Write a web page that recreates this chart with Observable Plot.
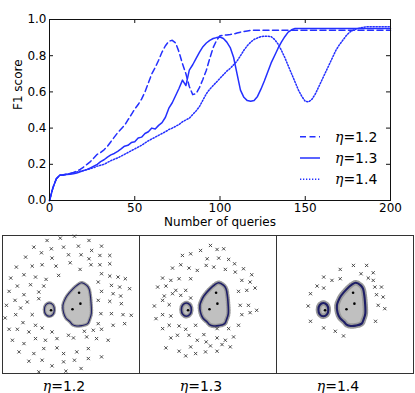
<!DOCTYPE html>
<html><head><meta charset="utf-8">
<script src="https://cdn.jsdelivr.net/npm/d3@7"></script>
<script src="https://cdn.jsdelivr.net/npm/@observablehq/plot@0.6"></script>
<style>
body{margin:0;background:#fff}
#wrap{position:relative;width:415px;height:393px;overflow:hidden;background:#fff}
#wrap>svg{position:absolute}
</style></head>
<body><div id="wrap"></div>
<script>
// ---------- top chart data ----------
const queries = [0,2,4,6,8,10,12,14,16,18,20,22,24,26,28,30,32,34,36,38,40,42,44,46,48,50,52,54,56,58,60,62,64,66,68,70,72,74,76,78,80,82,84,86,88,90,92,94,96,98,100,102,104,106,108,110,112,114,116,118,120,122,124,126,128,130,132,134,136,138,140,142,144,146,148,150,152,154,156,158,160,162,164,166,168,170,172,174,176,178,180,182,184,186,188,190,192,194,196,198,200];
const f1Eta12 = [0,0.07,0.12,0.14,0.142,0.145,0.15,0.155,0.162,0.172,
 0.185,0.20,0.215,0.235,0.255,0.265,0.28,0.30,0.325,0.35,
 0.375,0.395,0.415,0.445,0.475,0.505,0.53,0.56,0.60,0.65,
 0.70,0.735,0.775,0.82,0.855,0.88,0.885,0.87,0.82,0.755,
 0.70,0.63,0.585,0.59,0.625,0.67,0.72,0.785,0.845,0.885,
 0.91,0.912,0.915,0.917,0.92,0.925,0.93,0.934,0.937,0.94,
 0.94,0.94,0.94,0.94,0.94,0.94,0.94,0.94,0.94,0.94,0.94,0.94,0.94,0.94,0.94,0.94,0.94,0.94,0.94,0.94,
 0.94,0.94,0.94,0.94,0.94,0.94,0.94,0.94,0.94,0.94,0.94,0.94,0.94,0.94,0.94,0.94,0.94,0.94,0.94,0.94,0.94];
const f1Eta13 = [0,0.07,0.12,0.14,0.14,0.143,0.145,0.148,0.152,0.158,
 0.165,0.172,0.18,0.19,0.20,0.215,0.225,0.24,0.252,0.26,
 0.272,0.285,0.30,0.305,0.32,0.325,0.345,0.35,0.37,0.38,
 0.40,0.395,0.415,0.43,0.46,0.51,0.54,0.58,0.62,0.665,
 0.635,0.72,0.75,0.785,0.82,0.85,0.87,0.885,0.895,0.90,
 0.903,0.895,0.875,0.845,0.79,0.70,0.61,0.57,0.552,0.548,
 0.553,0.575,0.615,0.66,0.71,0.76,0.80,0.84,0.875,0.905,
 0.93,0.943,
 0.95,0.95,0.95,0.95,0.95,0.95,0.95,0.95,0.95,0.95,0.95,0.95,0.95,0.95,0.95,0.95,0.95,0.95,0.95,0.95,
 0.95,0.95,0.95,0.95,0.95,0.95,0.95,0.95,0.95];
const f1Eta14 = [0,0.07,0.12,0.14,0.142,0.145,0.148,0.152,0.158,0.162,
 0.166,0.17,0.176,0.182,0.19,0.195,0.20,0.21,0.22,0.228,
 0.235,0.245,0.255,0.265,0.275,0.285,0.295,0.305,0.318,0.33,
 0.34,0.35,0.36,0.37,0.38,0.392,0.40,0.41,0.42,0.435,
 0.445,0.455,0.475,0.495,0.52,0.555,0.59,0.615,0.635,0.655,
 0.675,0.695,0.715,0.73,0.75,0.77,0.80,0.83,0.855,0.875,
 0.89,0.898,0.905,0.908,0.908,0.905,0.89,0.865,0.83,0.79,
 0.745,0.70,0.655,0.61,0.575,0.548,0.545,0.56,0.59,0.63,
 0.67,0.71,0.75,0.79,0.83,0.86,0.885,0.91,0.93,0.94,
 0.948,0.953,0.957,
 0.96,0.96,0.96,0.96,0.96,0.96,0.96,0.96];
const etaLabels = ["η=1.2","η=1.3","η=1.4"];
const xTicks = [0,50,100,150,200];
const yTicks = [0,0.2,0.4,0.6,0.8,1.0];

// ---------- bottom panels data (panel coordinates, 0..415, y downward) ----------
const crossesEta12 = [[135,15],[175,8],[218,2],[262,15],[95,35],[148,40],[185,35],[230,32],[270,45],[300,32],
 [70,65],[118,52],[150,68],[200,58],[238,58],[262,70],[295,60],[325,60],
 [42,95],[90,92],[120,88],[162,92],[205,82],[235,102],[268,88],[295,88],[325,85],
 [25,128],[65,118],[100,125],[132,132],[170,120],[300,115],[325,122],[350,125],[372,130],
 [45,152],[85,148],[125,152],[290,140],[330,150],[355,155],[385,160],
 [20,168],[65,178],[110,170],[300,168],[335,175],[358,182],
 [38,195],[75,200],[110,190],[290,195],[325,198],[360,205],
 [12,210],[55,218],[90,238],[298,235],[330,235],[365,238],[390,240],[40,238],[8,248],
 [62,262],[100,270],[290,265],[335,270],[370,265],
 [20,282],[45,282],[80,290],[120,278],[150,290],[200,300],[248,288],[275,285],[300,282],
 [30,315],[65,325],[100,310],[130,315],[165,310],[215,308],[255,305],[285,310],[320,315],
 [50,350],[95,355],[125,340],[165,338],[185,355],[225,350],[260,340],[300,365],
 [80,378],[120,375],[150,392],[185,380],[218,375],[260,370],[110,410],[192,408],[238,400]];
const crossesEta13 = [[215,30],[185,45],[235,42],[255,40],[130,60],[155,55],[205,70],[240,68],[270,72],[288,85],
 [100,98],[125,88],[150,98],[175,105],[202,90],[225,95],[260,102],[290,110],[315,100],[340,118],
 [70,128],[95,135],[120,130],[155,130],[310,135],[335,140],
 [55,155],[80,152],[110,165],[140,165],[300,168],[325,165],[350,158],
 [75,182],[100,175],[125,180],[155,188],
 [45,212],[70,195],[90,208],[305,210],[330,210],[355,225],
 [50,250],[70,238],[95,242],[310,238],[335,232],
 [70,280],[90,270],[120,272],[140,282],[170,270],[195,298],[235,280],[270,280],[300,270],
 [95,308],[115,300],[150,300],[175,315],[202,320],[235,308],[260,315],[285,305],
 [80,338],[120,348],[155,335],[215,332],[250,328],[275,335],
 [140,362],[170,355],[200,350],[235,348]];
const crossesEta14 = [[233,90],[273,90],[193,102],[256,115],[293,112],
 [143,125],[168,135],[193,130],[278,128],[293,135],
 [123,152],[143,158],[298,155],[318,155],
 [103,175],[303,178],[323,185],
 [96,212],[308,210],[328,220],
 [103,258],[300,258],
 [143,278],[178,288],[203,302]];
const regionOutline = [[240,142],[255,150],[262,160],[266,180],[268,200],[269,235],[264,252],[258,265],[240,271],[225,272],[212,268],[205,260],[192,248],[185,232],[183,210],[188,195],[195,182],[212,162],[228,148]];
const smallRegion = [[142,203],[153,209],[157,223],[153,237],[142,243],[131,237],[127,223],[131,209]];
const labeledPoints = [[232,172],[236,205],[212,222],[147,225]];

// ---------- build ----------
const wrap = document.getElementById("wrap");
const blue = "#2430ff";
const seriesDefs = [
  {label: etaLabels[0], values: f1Eta12, dash: "6,3.5"},
  {label: etaLabels[1], values: f1Eta13, dash: null},
  {label: etaLabels[2], values: f1Eta14, dash: "1.3,1.7"}
];
const lineMarks = seriesDefs.map(s => Plot.line(queries.map((q,i)=>({q, f: s.values[i]})),
  {x:"q", y:"f", stroke: blue, strokeWidth: 1.5, strokeDasharray: s.dash}));

const topChart = Plot.plot({
  width: 415, height: 230,
  marginLeft: 49, marginRight: 25, marginTop: 19, marginBottom: 30,
  style: {fontFamily: "'DejaVu Sans', sans-serif", fontSize: "12px", color: "#000", background: "transparent"},
  x: {domain: [0, 200]},
  y: {domain: [0, 1]},
  marks: [
    ...lineMarks,
    Plot.frame({stroke: "#111"}),
    Plot.tickX(xTicks, {x: d => d, insetTop: 177, stroke: "#111"}),
    Plot.tickX(xTicks, {x: d => d, insetBottom: 177, stroke: "#111"}),
    Plot.tickY(yTicks, {y: d => d, insetRight: 337, stroke: "#111"}),
    Plot.tickY(yTicks, {y: d => d, insetLeft: 337, stroke: "#111"}),
    Plot.axisX(xTicks, {tickSize: 0, tickPadding: 3, label: null, fontSize: 12}),
    Plot.axisY(yTicks, {tickSize: 0, tickPadding: 3, label: null, fontSize: 12, tickFormat: d3.format(".1f")}),
    Plot.text(["Number of queries"], {frameAnchor: "bottom", lineAnchor: "middle", dy: 21.7, fontSize: 12}),
    Plot.text(["F1 score"], {frameAnchor: "left", lineAnchor: "middle", dx: -31, rotate: -90, fontSize: 12})
  ]
});
topChart.style.left = "0px"; topChart.style.top = "0px";
wrap.appendChild(topChart);

// legend overlay
const leg = d3.create("svg").attr("width", 415).attr("height", 228)
  .style("left", "0px").style("top", "0px").style("position", "absolute")
  .style("font-family", "'DejaVu Sans', sans-serif");
seriesDefs.forEach((s, i) => {
  const y = 136.7 + i * 21.3;
  leg.append("line").attr("x1", 300).attr("x2", 320).attr("y1", y).attr("y2", y)
    .attr("stroke", blue).attr("stroke-width", 1.5).attr("stroke-dasharray", s.dash);
  leg.append("text").attr("x", 335).attr("y", y + 4.8).attr("font-size", 14).text(s.label);
});
wrap.appendChild(leg.node());

// bottom panels
const crossRows = [crossesEta12, crossesEta13, crossesEta14]
  .flatMap((arr, k) => arr.map(([x, y]) => ({x, y, panel: etaLabels[k]})));
const regionMarks = etaLabels.flatMap((lab, k) => [
  Plot.line(regionOutline, {x: d => d[0], y: d => d[1], fx: () => lab, curve: "catmull-rom-closed",
    stroke: "#9a9a9a", strokeWidth: 3.5 + k, strokeDasharray: "1.2,1.3", fill: "#c0c0c0"}),
  Plot.line(regionOutline, {x: d => d[0], y: d => d[1], fx: () => lab, curve: "catmull-rom-closed",
    stroke: "#1e1e66", strokeWidth: 1.1 + 0.5 * k, fill: "none"}),
  Plot.line(smallRegion, {x: d => d[0], y: d => d[1], fx: () => lab, curve: "catmull-rom-closed",
    stroke: "#9a9a9a", strokeWidth: 3.5 + k, strokeDasharray: "1.2,1.3", fill: "#c0c0c0"}),
  Plot.line(smallRegion, {x: d => d[0], y: d => d[1], fx: () => lab, curve: "catmull-rom-closed",
    stroke: "#1e1e66", strokeWidth: 1.1 + 0.5 * k, fill: "none"}),
  Plot.dot(labeledPoints, {x: d => d[0], y: d => d[1], fx: () => lab, r: 1.3, fill: "#000"})
]);
const bottomChart = Plot.plot({
  width: 415, height: 160,
  marginLeft: 1, marginRight: 2, marginTop: 1, marginBottom: 21,
  style: {fontFamily: "'DejaVu Sans', sans-serif", background: "transparent", color: "#000"},
  fx: {domain: etaLabels, padding: 0, axis: null},
  x: {domain: [0, 415], axis: null},
  y: {domain: [0, 415], axis: null, reverse: true},
  marks: [
    ...regionMarks,
    Plot.dot(crossRows, {x: "x", y: "y", fx: "panel", symbol: "times", r: 1.6, stroke: "#3a3a3a", strokeWidth: 0.9}),
    Plot.frame({stroke: "#333"}),
    Plot.text(etaLabels, {fx: d => d, text: d => d, frameAnchor: "bottom", lineAnchor: "middle", dy: 13, dx: -7, fontSize: 14})
  ]
});
bottomChart.style.left = "0px"; bottomChart.style.top = "234px";
wrap.appendChild(bottomChart);

// render η as italic serif
d3.select(wrap).selectAll("text").each(function() {
  const t = this.textContent;
  if (t && t.startsWith("η")) {
    const sel = d3.select(this);
    sel.text(null);
    sel.append("tspan").attr("font-family", "'DejaVu Serif', serif").attr("font-style", "italic").text("η");
    sel.append("tspan").text(t.slice(1));
  }
});
</script></body></html>
